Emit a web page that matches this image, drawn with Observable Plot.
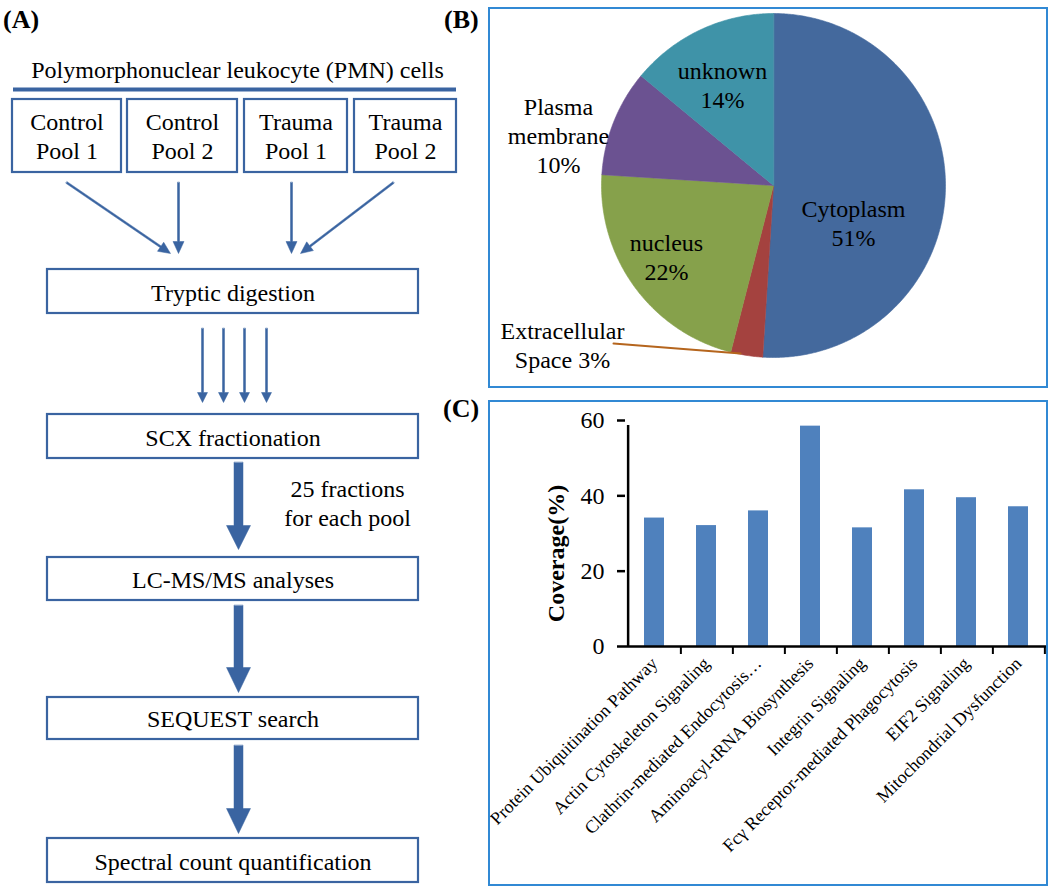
<!DOCTYPE html>
<html><head><meta charset="utf-8">
<script src="https://cdn.jsdelivr.net/npm/d3@7"></script>
<script src="https://cdn.jsdelivr.net/npm/@observablehq/plot@0.6"></script>
<style>
html,body{margin:0;padding:0;background:#fff;}
#fig{position:relative;width:1050px;height:887px;overflow:hidden;font-family:"Liberation Serif","Times New Roman",serif;background:#fff;}
#fig svg, #fig svg text, #fig svg g {font-family:"Liberation Serif","Times New Roman",serif !important;}
.letter{position:absolute;font-weight:bold;font-size:26px;line-height:1;color:#000;}
.frame{position:absolute;border:2px solid #3189d4;box-sizing:border-box;pointer-events:none;}
</style></head><body>
<div id="fig"></div>
<script>
// ---------------- DATA ----------------
// Panel A: workflow
const sourceLabel = "Polymorphonuclear leukocyte (PMN) cells";
const poolGroups = ["Control", "Control", "Trauma", "Trauma"];
const poolNumbers = ["Pool 1", "Pool 2", "Pool 1", "Pool 2"];
const workflowSteps = ["Tryptic digestion", "SCX fractionation", "LC-MS/MS analyses", "SEQUEST search", "Spectral count quantification"];
const fractionNote = ["25 fractions", "for each pool"];

// Panel B: subcellular location (%)
const locations = ["Cytoplasm", "Extracellular Space", "nucleus", "Plasma membrane", "unknown"];
const locationShares = [51, 3, 22, 10, 14];

// Panel C: pathway coverage (%)
const pathways = [
  "Protein Ubiquitination Pathway",
  "Actin Cytoskeleton Signaling",
  "Clathrin-mediated Endocytosis…",
  "Aminoacyl-tRNA Biosynthesis",
  "Integrin Signaling",
  "Fcγ Receptor-mediated Phagocytosis",
  "EIF2 Signaling",
  "Mitochondrial Dysfunction"
];
const coverage = [34.1, 32.1, 36.0, 58.5, 31.5, 41.6, 39.5, 37.1];
const coverageTicks = [0, 20, 40, 60];

// ---------------- STYLE / LAYOUT ----------------
const serif = "Liberation Serif";
const fcBlue = "#3a64a1";
const sliceColors = ["#44699d", "#a4423f", "#86a14b", "#6b5291", "#3f93a8"];
const barColor = "#4f81bd";

const fig = document.getElementById("fig");
function place(node, left, top) {
  node.style.position = "absolute";
  node.style.left = left + "px";
  node.style.top = top + "px";
  fig.appendChild(node);
}
function addDiv(cls, text, left, top, w, h) {
  const d = document.createElement("div");
  d.className = cls;
  if (text) d.textContent = text;
  d.style.left = left + "px"; d.style.top = top + "px";
  if (w) d.style.width = w + "px";
  if (h) d.style.height = h + "px";
  fig.appendChild(d);
}

// ---------------- PANEL A ----------------
const poolX1 = [12, 127, 244, 354], poolX2 = [121, 237, 347, 456];
const poolTop = 99, poolBottom = 172;
const stepTop = [269, 414, 557, 697, 838], stepBottom = [313, 458, 600, 739, 882];
const stepX1 = 47, stepX2 = 418, stepCx = (stepX1 + stepX2) / 2;

const boxes = [
  ...poolGroups.map((g, i) => ({x1: poolX1[i], x2: poolX2[i], y1: poolTop, y2: poolBottom})),
  ...workflowSteps.map((s, i) => ({x1: stepX1, x2: stepX2, y1: stepTop[i], y2: stepBottom[i]}))
];
const texts = [
  {x: 237, y: 77, t: sourceLabel},
  ...poolGroups.map((g, i) => ({x: (poolX1[i] + poolX2[i]) / 2, y: 158, t: g + "\n" + poolNumbers[i]})),
  ...workflowSteps.map((s, i) => ({x: stepCx, y: stepBottom[i] - 13, t: s})),
  {x: 347, y: 525, t: fractionNote.join("\n")}
];

// arrows: [x1,y1,x2,y2, shaftWidth, headWidth, headLength]
const arrowSpecs = [
  [66, 182, 170, 253, 2, 11, 12],
  [178, 182, 178, 253, 2, 11, 12],
  [291, 182, 291, 253, 2, 11, 12],
  [393, 182, 300, 253, 2, 11, 12],
  [202, 328, 202, 402, 2, 10, 10],
  [223, 328, 223, 402, 2, 10, 10],
  [244, 328, 244, 402, 2, 10, 10],
  [266, 328, 266, 402, 2, 10, 10],
  [238, 462, 238, 549, 9, 24, 24],
  [238, 605, 238, 692, 9, 24, 25],
  [238, 745, 238, 833, 9, 24, 25]
];
function arrowPolygon([x1, y1, x2, y2, w, hw, hl], id) {
  const dx = x2 - x1, dy = y2 - y1, len = Math.hypot(dx, dy);
  const ux = dx / len, uy = dy / len, nx = -uy, ny = ux;
  const bx = x2 - ux * hl, by = y2 - uy * hl;
  const P = (x, y) => ({id, x, y});
  return [
    P(x1 + nx * w / 2, y1 + ny * w / 2),
    P(bx + nx * w / 2, by + ny * w / 2),
    P(bx + nx * hw / 2, by + ny * hw / 2),
    P(x2, y2),
    P(bx - nx * hw / 2, by - ny * hw / 2),
    P(bx - nx * w / 2, by - ny * w / 2),
    P(x1 - nx * w / 2, y1 - ny * w / 2)
  ];
}
const arrowPts = arrowSpecs.flatMap((a, i) => arrowPolygon(a, i));

const flow = Plot.plot({
  width: 470, height: 887, margin: 0,
  x: {type: "identity", axis: null},
  y: {type: "identity", axis: null},
  style: {fontFamily: serif, background: "transparent", overflow: "visible"},
  marks: [
    Plot.ruleY([89], {x1: 13, x2: 456, stroke: fcBlue, strokeWidth: 4}),
    Plot.rect(boxes, {x1: "x1", x2: "x2", y1: "y1", y2: "y2", fill: "white", stroke: fcBlue, strokeWidth: 2.2}),
    Plot.line(arrowPts, {x: "x", y: "y", z: "id", fill: fcBlue, stroke: fcBlue, strokeWidth: 0.5, curve: "linear-closed"}),
    Plot.text(texts, {x: "x", y: "y", text: "t", lineAnchor: "bottom", lineHeight: 1.17, fontSize: 24, fontFamily: serif, fill: "black"})
  ]
});
place(flow, 0, 0);

// ---------------- PANEL B ----------------
const R = 172, pieCx = 285, pieCy = 178;
const pieRows = locations.map((loc, i) => ({loc, share: locationShares[i]}));
const arcs = d3.pie().sort(null).value(d => d.share)(pieRows);
const slicePts = arcs.flatMap(a => {
  const pts = [{loc: a.data.loc, x: 0, y: 0}];
  const n = Math.max(2, Math.ceil((a.endAngle - a.startAngle) / (Math.PI / 360)));
  for (let k = 0; k <= n; k++) {
    const t = a.startAngle + (a.endAngle - a.startAngle) * k / n;
    pts.push({loc: a.data.loc, x: Math.sin(t), y: Math.cos(t)});
  }
  return pts;
});
// label anchor offsets in px from pie centre (right, down)
const labelOffsets = {
  "Cytoplasm": [80, 37],
  "Extracellular Space": [-211, 158.5],
  "nucleus": [-107, 71],
  "Plasma membrane": [-215, -50.5],
  "unknown": [-51, -101.5]
};
const labelText = (name, v) => name === "Extracellular Space"
  ? `Extracellular\nSpace ${v}%`
  : `${name.replace(" ", "\n")}\n${v}%`;
const pieLabels = pieRows.map(d => ({
  x: labelOffsets[d.loc][0] / R,
  y: -labelOffsets[d.loc][1] / R,
  t: labelText(d.loc, d.share)
}));
const leader = [{x: -160 / R, y: -158 / R}, {x: -33 / R, y: -168 / R}];

const pie = Plot.plot({
  width: 560, height: 381, margin: 0,
  x: {domain: [-1, 1], range: [pieCx - R, pieCx + R], axis: null},
  y: {domain: [-1, 1], range: [pieCy + R, pieCy - R], axis: null},
  color: {domain: locations, range: sliceColors},
  style: {fontFamily: serif, background: "transparent", overflow: "visible"},
  marks: [
    Plot.line(slicePts, {x: "x", y: "y", z: "loc", fill: "loc", stroke: "loc", strokeWidth: 0.6, curve: "linear-closed"}),
    Plot.line(leader, {x: "x", y: "y", stroke: "#b5651d", strokeWidth: 2}),
    Plot.text(pieLabels, {x: "x", y: "y", text: "t", fontSize: 24, lineHeight: 1.2, fontFamily: serif, fill: "black"})
  ]
});
place(pie, 488, 7);

// ---------------- PANEL C ----------------
const barData = pathways.map((p, i) => ({pathway: p, coverage: coverage[i]}));
const BW = 560, BH = 486, mL = 137, mR = 1, mT = 20, mB = 240;
const step = (BW - mL - mR) / pathways.length;
const bars = Plot.plot({
  width: BW, height: BH, marginLeft: mL, marginRight: mR, marginTop: mT, marginBottom: mB,
  x: {domain: pathways, padding: 0, axis: null},
  y: {domain: [0, 60], axis: null},
  style: {fontFamily: serif, fontSize: "18px", color: "black", background: "transparent", overflow: "visible"},
  marks: [
    Plot.barY(barData, {x: "pathway", y: "coverage", fill: barColor, insetLeft: 16, insetRight: 16}),
    Plot.ruleY([0], {stroke: "black", strokeWidth: 2.5}),
    Plot.ruleX([pathways[0]], {y1: 0, y2: 60, dx: -step / 2, stroke: "black", strokeWidth: 2.5, insetBottom: -5}),
    Plot.ruleX(pathways, {y1: 0, y2: 0, dx: step / 2, insetBottom: -8, stroke: "black", strokeWidth: 2}),
    Plot.axisY({ticks: coverageTicks, tickSize: 8, tickPadding: 13, fontSize: 24, strokeWidth: 2.5, label: null}),
    Plot.axisX({tickRotate: -45, tickSize: 0, tickPadding: 14, fontSize: 18, label: null}),
    Plot.text(["Coverage(%)"], {text: d => d, frameAnchor: "left", textAnchor: "middle", rotate: -90, dx: -69, dy: 20, fontSize: 24, fontWeight: "bold", fontFamily: serif, fill: "black"})
  ]
});
place(bars, 488, 400);

// ---------------- FRAMES & LETTERS ----------------
addDiv("frame", "", 488, 7, 560, 381);
addDiv("frame", "", 488, 400, 560, 486);
addDiv("letter", "(A)", 3, 7);
addDiv("letter", "(B)", 444, 7);
addDiv("letter", "(C)", 443, 396);
</script>
</body></html>
